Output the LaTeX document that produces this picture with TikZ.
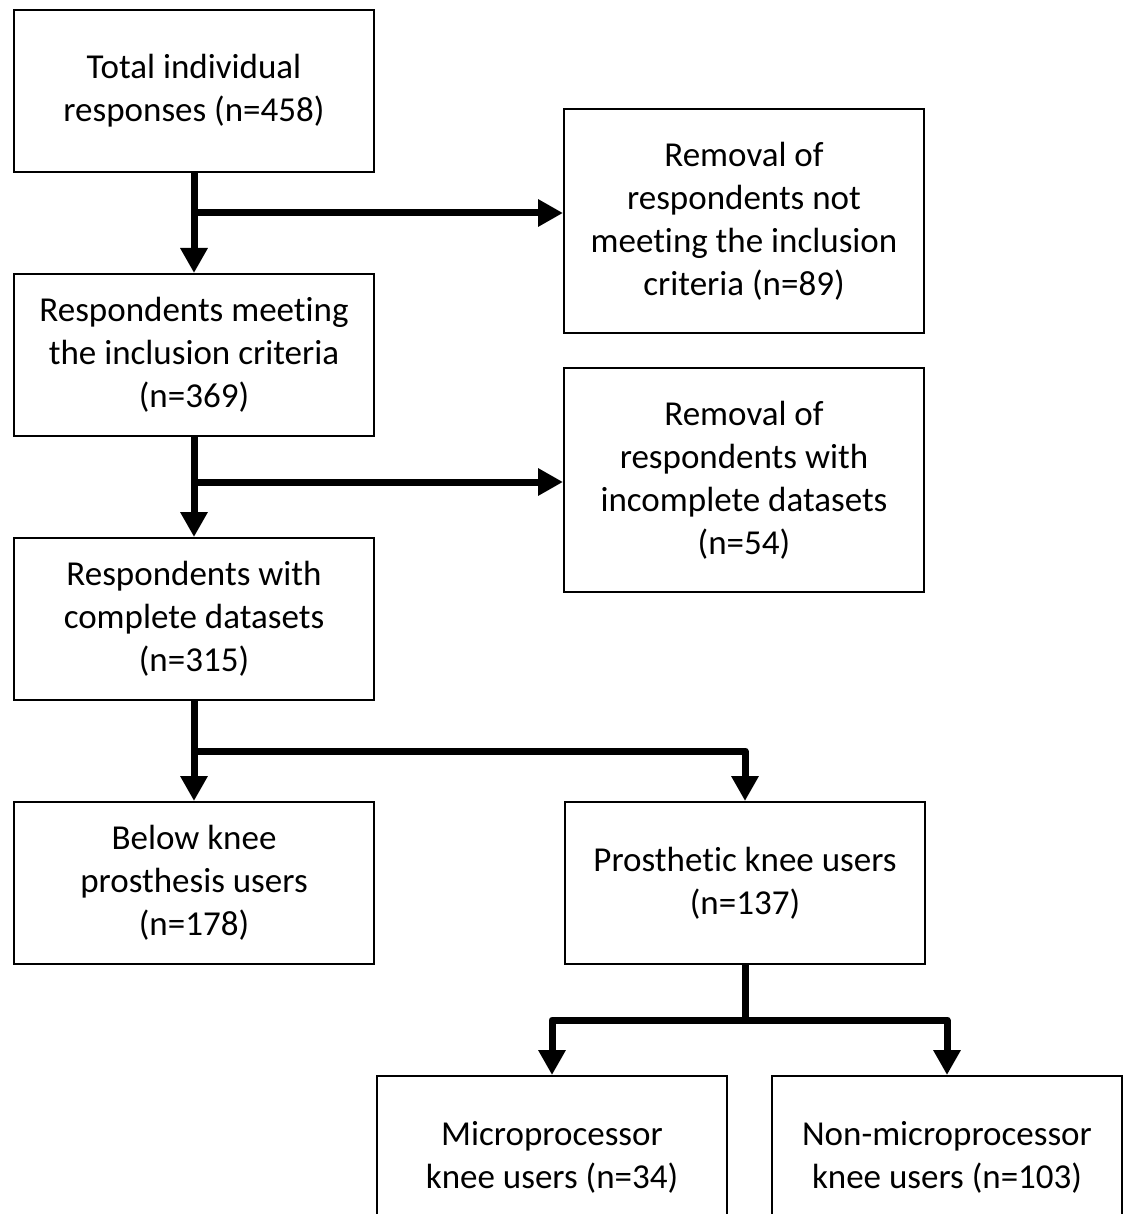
\documentclass[tikz,border=0pt]{standalone}
\usepackage{fontspec}
\setmainfont{Carlito}[Ligatures=NoCommon]
\usepackage{tikz}
\usetikzlibrary{arrows.meta,positioning,calc}

\begin{document}
\begin{tikzpicture}[
  x=1pt,y=-1pt,
  node distance=100pt,
  b/.style={draw,line width=2pt,align=center,minimum width=360pt,minimum height=162pt,inner sep=0pt,font=\fontsize{35}{43}\selectfont},
  a/.style={-{Triangle[length=25pt,width=26pt]},line width=7pt,line join=round}
]
\useasboundingbox (0,0) rectangle (1127,1214);
\node[b] (total) at (194,91) {Total individual\\responses (n=458)};
\node[b,below=of total] (meet) {Respondents meeting\\the inclusion criteria\\(n=369)};
\node[b,below=of meet] (complete) {Respondents with\\complete datasets\\(n=315)};
\node[b,below=of complete] (below) {Below knee\\prosthesis users\\(n=178)};
\node[b,right=189pt of below] (knee) {Prosthetic knee users\\(n=137)};
\node[b,minimum height=224pt,anchor=north west] (remincl) at (563,108) {Removal of\\respondents not\\meeting the inclusion\\criteria (n=89)};
\node[b,minimum height=224pt,anchor=north west] (remdata) at (563,367) {Removal of\\respondents with\\incomplete datasets\\(n=54)};
\node[b,minimum width=350pt,minimum height=162pt,anchor=north] (micro) at (552,1075) {Microprocessor\\knee users (n=34)};
\node[b,minimum width=350pt,minimum height=162pt,anchor=north] (nonmicro) at (947,1075) {Non-microprocessor\\knee users (n=103)};
% branches
\coordinate (j1) at ($(total.south)!0.4!(meet.north)$);
\coordinate (j2) at ($(meet.south)!0.45!(complete.north)$);
\coordinate (j3) at ($(complete.south)!0.5!(below.north)$);
\coordinate (j4) at ($(knee.south)!0.5!(micro.north -| knee.south)$);
\draw[a] (total) -- (meet);
\draw[a] (j1) -- (j1 -| remincl.west);
\draw[a] (meet) -- (complete);
\draw[a] (j2) -- (j2 -| remdata.west);
\draw[a] (complete) -- (below);
\draw[a] (j3) -| (knee.north);
\draw[line width=7pt] (knee.south) -- (j4);
\draw[a] (j4) -| (micro.north);
\draw[a] (j4) -| (nonmicro.north);
\end{tikzpicture}
\end{document}
